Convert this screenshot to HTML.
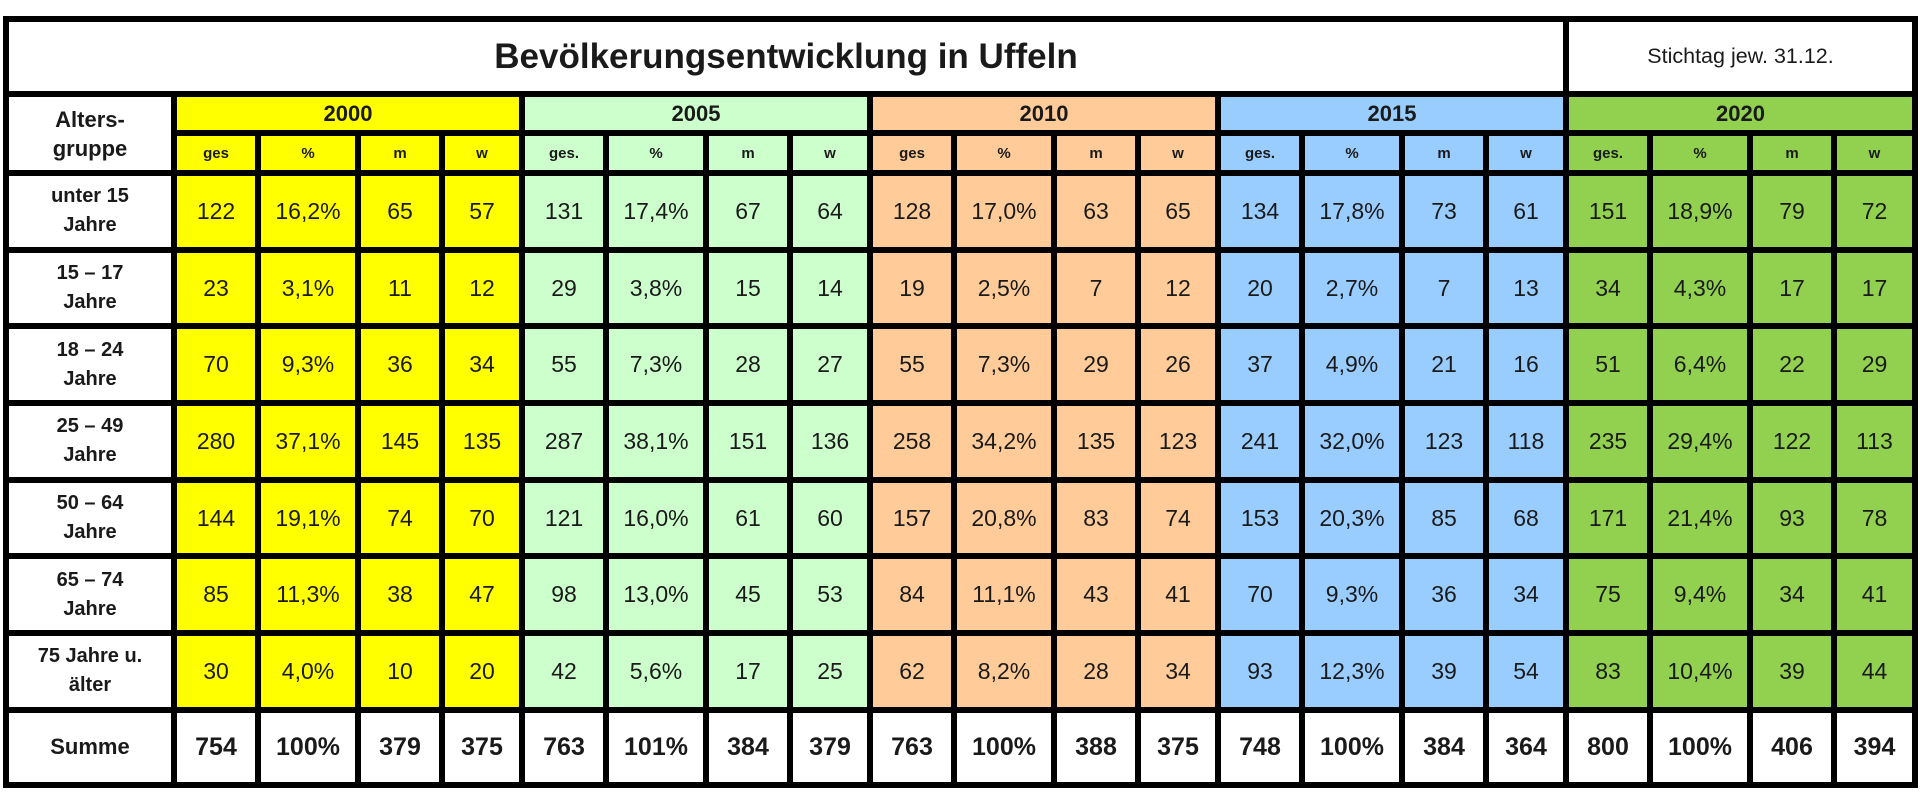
<!DOCTYPE html>
<html><head><meta charset="utf-8"><style>
html,body{margin:0;padding:0;background:#fff;width:1920px;height:802px;overflow:hidden}
table{position:absolute;left:3px;top:16px;border-collapse:collapse;table-layout:fixed;width:1909px;font-family:"Liberation Sans",sans-serif;color:#1a1a1a}
td{border:6px solid #000;text-align:center;vertical-align:middle;padding:0;font-size:23px;overflow:hidden}
.t{font-size:35px;font-weight:bold;background:#fff}
.s{font-size:21.5px;background:#fff}
.h1 td{font-size:22px;font-weight:bold}
.h2 td{font-size:15px;font-weight:bold}
.lab{font-weight:bold;font-size:20px;background:#fff;line-height:29px}
.sum td{font-weight:bold;font-size:25px;background:#fff}
.y{background:#ffff00}.g{background:#ccffcc}.o{background:#ffcc99}.b{background:#99ccff}.l{background:#92d050}
tr.d{height:76.7px}
</style></head><body>
<table>
<colgroup><col style="width:168px">
<col style="width:84px"><col style="width:100px"><col style="width:84px"><col style="width:80px">
<col style="width:84px"><col style="width:100px"><col style="width:84px"><col style="width:80px">
<col style="width:84px"><col style="width:100px"><col style="width:84px"><col style="width:80px">
<col style="width:84px"><col style="width:100px"><col style="width:84px"><col style="width:80px">
<col style="width:84px"><col style="width:100px"><col style="width:84px"><col style="width:81px">
</colgroup>
<tr style="height:75px"><td colspan="17" class="t">Bevölkerungsentwicklung in Uffeln</td><td colspan="4" class="s">Stichtag jew. 31.12.</td></tr>
<tr class="h1" style="height:39px"><td rowspan="2" class="lab">Alters-<br>gruppe</td><td colspan="4" class="y">2000</td><td colspan="4" class="g">2005</td><td colspan="4" class="o">2010</td><td colspan="4" class="b">2015</td><td colspan="4" class="l">2020</td></tr>
<tr class="h2" style="height:40px"><td class="y">ges</td><td class="y">%</td><td class="y">m</td><td class="y">w</td><td class="g">ges.</td><td class="g">%</td><td class="g">m</td><td class="g">w</td><td class="o">ges</td><td class="o">%</td><td class="o">m</td><td class="o">w</td><td class="b">ges.</td><td class="b">%</td><td class="b">m</td><td class="b">w</td><td class="l">ges.</td><td class="l">%</td><td class="l">m</td><td class="l">w</td></tr>
<tr class="d"><td class="lab">unter 15<br>Jahre</td><td class="y">122</td><td class="y">16,2%</td><td class="y">65</td><td class="y">57</td><td class="g">131</td><td class="g">17,4%</td><td class="g">67</td><td class="g">64</td><td class="o">128</td><td class="o">17,0%</td><td class="o">63</td><td class="o">65</td><td class="b">134</td><td class="b">17,8%</td><td class="b">73</td><td class="b">61</td><td class="l">151</td><td class="l">18,9%</td><td class="l">79</td><td class="l">72</td></tr>
<tr class="d"><td class="lab">15 – 17<br>Jahre</td><td class="y">23</td><td class="y">3,1%</td><td class="y">11</td><td class="y">12</td><td class="g">29</td><td class="g">3,8%</td><td class="g">15</td><td class="g">14</td><td class="o">19</td><td class="o">2,5%</td><td class="o">7</td><td class="o">12</td><td class="b">20</td><td class="b">2,7%</td><td class="b">7</td><td class="b">13</td><td class="l">34</td><td class="l">4,3%</td><td class="l">17</td><td class="l">17</td></tr>
<tr class="d"><td class="lab">18 – 24<br>Jahre</td><td class="y">70</td><td class="y">9,3%</td><td class="y">36</td><td class="y">34</td><td class="g">55</td><td class="g">7,3%</td><td class="g">28</td><td class="g">27</td><td class="o">55</td><td class="o">7,3%</td><td class="o">29</td><td class="o">26</td><td class="b">37</td><td class="b">4,9%</td><td class="b">21</td><td class="b">16</td><td class="l">51</td><td class="l">6,4%</td><td class="l">22</td><td class="l">29</td></tr>
<tr class="d"><td class="lab">25 – 49<br>Jahre</td><td class="y">280</td><td class="y">37,1%</td><td class="y">145</td><td class="y">135</td><td class="g">287</td><td class="g">38,1%</td><td class="g">151</td><td class="g">136</td><td class="o">258</td><td class="o">34,2%</td><td class="o">135</td><td class="o">123</td><td class="b">241</td><td class="b">32,0%</td><td class="b">123</td><td class="b">118</td><td class="l">235</td><td class="l">29,4%</td><td class="l">122</td><td class="l">113</td></tr>
<tr class="d"><td class="lab">50 – 64<br>Jahre</td><td class="y">144</td><td class="y">19,1%</td><td class="y">74</td><td class="y">70</td><td class="g">121</td><td class="g">16,0%</td><td class="g">61</td><td class="g">60</td><td class="o">157</td><td class="o">20,8%</td><td class="o">83</td><td class="o">74</td><td class="b">153</td><td class="b">20,3%</td><td class="b">85</td><td class="b">68</td><td class="l">171</td><td class="l">21,4%</td><td class="l">93</td><td class="l">78</td></tr>
<tr class="d"><td class="lab">65 – 74<br>Jahre</td><td class="y">85</td><td class="y">11,3%</td><td class="y">38</td><td class="y">47</td><td class="g">98</td><td class="g">13,0%</td><td class="g">45</td><td class="g">53</td><td class="o">84</td><td class="o">11,1%</td><td class="o">43</td><td class="o">41</td><td class="b">70</td><td class="b">9,3%</td><td class="b">36</td><td class="b">34</td><td class="l">75</td><td class="l">9,4%</td><td class="l">34</td><td class="l">41</td></tr>
<tr class="d"><td class="lab">75 Jahre u.<br>älter</td><td class="y">30</td><td class="y">4,0%</td><td class="y">10</td><td class="y">20</td><td class="g">42</td><td class="g">5,6%</td><td class="g">17</td><td class="g">25</td><td class="o">62</td><td class="o">8,2%</td><td class="o">28</td><td class="o">34</td><td class="b">93</td><td class="b">12,3%</td><td class="b">39</td><td class="b">54</td><td class="l">83</td><td class="l">10,4%</td><td class="l">39</td><td class="l">44</td></tr>
<tr class="sum" style="height:75px"><td style="font-size:22px">Summe</td><td>754</td><td>100%</td><td>379</td><td>375</td><td>763</td><td>101%</td><td>384</td><td>379</td><td>763</td><td>100%</td><td>388</td><td>375</td><td>748</td><td>100%</td><td>384</td><td>364</td><td>800</td><td>100%</td><td>406</td><td>394</td></tr>
</table>
</body></html>
